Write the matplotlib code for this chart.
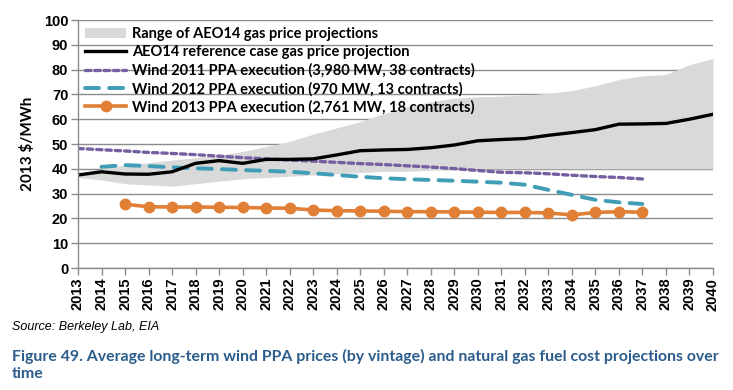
import numpy as np
import matplotlib.pyplot as plt
from matplotlib.patches import Patch
from matplotlib.lines import Line2D

years = np.arange(2013, 2041)

# AEO14 range of gas price projections (lower / upper)
range_low = [36.5, 35.5, 34.0, 33.5, 33.0, 34.0, 35.0, 36.0, 36.5, 37.0,
             37.5, 38.0, 38.5, 39.0, 39.0, 39.5, 40.0, 40.0, 40.0, 40.0,
             40.0, 40.0, 40.0, 40.0, 40.0, 40.0, 40.0, 40.0]
range_high = [37.5, 40.0, 41.5, 42.5, 43.5, 44.5, 45.5, 47.0, 49.0, 51.0,
              54.0, 56.5, 59.0, 62.3, 65.0, 67.0, 68.5, 69.0, 69.3, 69.7,
              70.5, 71.5, 73.5, 76.0, 77.5, 78.0, 82.0, 84.5]
ref_case = [37.5, 38.8, 37.9, 37.8, 38.8, 42.2, 43.3, 42.2, 43.8, 43.8,
            44.0, 45.6, 47.3, 47.6, 47.8, 48.5, 49.6, 51.3, 51.8, 52.2,
            53.5, 54.6, 55.8, 58.0, 58.1, 58.3, 60.0, 62.0]

yrs_2011 = np.arange(2013, 2038)
wind_2011 = [48.2, 47.7, 47.2, 46.6, 46.2, 45.7, 45.1, 44.5, 44.0, 43.5,
             43.1, 42.6, 42.1, 41.7, 41.2, 40.7, 40.1, 39.3, 38.6, 38.4,
             38.0, 37.4, 36.9, 36.5, 35.9]
yrs_2012 = np.arange(2014, 2038)
wind_2012 = [40.8, 41.5, 41.1, 40.6, 40.2, 39.9, 39.5, 39.2, 38.8, 38.2,
             37.5, 36.8, 36.2, 35.8, 35.5, 35.2, 34.8, 34.4, 33.6, 31.5,
             29.5, 27.5, 26.5, 25.8]
yrs_2013 = np.arange(2015, 2038)
wind_2013 = [25.7, 24.7, 24.6, 24.6, 24.5, 24.4, 24.2, 24.1, 23.4, 23.1,
             23.0, 22.9, 22.7, 22.7, 22.6, 22.5, 22.4, 22.4, 22.2, 21.4,
             22.4, 22.7, 22.5]

legend_labels = ["Range of AEO14 gas price projections",
                 "AEO14 reference case gas price projection",
                 "Wind 2011 PPA execution (3,980 MW, 38 contracts)",
                 "Wind 2012 PPA execution (970 MW, 13 contracts)",
                 "Wind 2013 PPA execution (2,761 MW, 18 contracts)"]

GREY = "#d9d9d9"
PURPLE = "#7460a0"
TEAL = "#3f9db6"
ORANGE = "#e07f35"
GRID = "#8c8c8c"
CAPTION = "#2b5c8c"

fig = plt.figure(figsize=(7.33, 3.9), dpi=100)
ax = fig.add_axes([0.1064, 0.3128, 0.8663, 0.6359])

ax.fill_between(years, range_low, range_high, color=GREY, lw=0, zorder=2)
ax.plot(years, ref_case, color="black", lw=2.4, zorder=4)
ax.plot(yrs_2011, wind_2011, color=PURPLE, lw=2.4, ls=(0, (1.6, 1.2)),
        dash_capstyle="round", zorder=3)
ax.plot(yrs_2012, wind_2012, color=TEAL, lw=2.8, ls=(0, (3.6, 2.6)),
        dash_capstyle="round", zorder=3)
ax.plot(yrs_2013, wind_2013, color=ORANGE, lw=2.6, marker="o", ms=7.5,
        zorder=3)

ax.set_xlim(2013, 2040)
ax.set_ylim(0, 100)
ax.set_xticks(years)
ax.set_xticklabels([str(y) for y in years], rotation=90,
                   fontsize=10.5, fontweight="bold", family="Liberation Sans")
ax.set_yticks(np.arange(0, 101, 10))
ax.set_yticklabels([str(v) for v in range(0, 101, 10)],
                   fontsize=10.5, fontweight="bold", family="Liberation Sans")
ax.tick_params(axis="both", length=5, width=1, color=GRID, pad=2)
ax.yaxis.grid(True, color=GRID, lw=1, zorder=1)
ax.set_axisbelow(True)
for side in ["top", "right"]:
    ax.spines[side].set_visible(False)
for side in ["left", "bottom"]:
    ax.spines[side].set_color(GRID)
    ax.spines[side].set_linewidth(1)
    ax.spines[side].set_zorder(5)

ax.set_ylabel("2013 $/MWh", fontsize=11, fontweight="bold", family="Lato",
              labelpad=6)

handles = [Patch(facecolor=GREY, edgecolor="none"),
           Line2D([], [], color="black", lw=2.4),
           Line2D([], [], color=PURPLE, lw=2.4, ls=(0, (1.6, 1.2)),
                  dash_capstyle="round"),
           Line2D([], [], color=TEAL, lw=2.8, ls=(0, (3.6, 2.6)),
                  dash_capstyle="round"),
           Line2D([], [], color=ORANGE, lw=2.6, marker="o", ms=7.5)]
leg = ax.legend(handles, legend_labels, loc="upper left",
                bbox_to_anchor=(0.0, 1.0), frameon=False,
                prop={"family": "Lato", "weight": "bold", "size": 10.5},
                handlelength=2.8, handletextpad=0.4, labelspacing=0.27,
                borderaxespad=0.1)
leg.set_zorder(6)

fig.text(0.016, 0.155, "Source: Berkeley Lab, EIA", fontsize=9,
         style="italic", family=["Liberation Sans Narrow", "Liberation Sans"])
fig.text(0.016, 0.03,
         "Figure 49. Average long-term wind PPA prices (by vintage) and natural gas fuel cost projections over\ntime",
         fontsize=11.45, fontweight="bold", family="Lato", color=CAPTION,
         linespacing=1.3)

fig.savefig("out.png", dpi=100)
